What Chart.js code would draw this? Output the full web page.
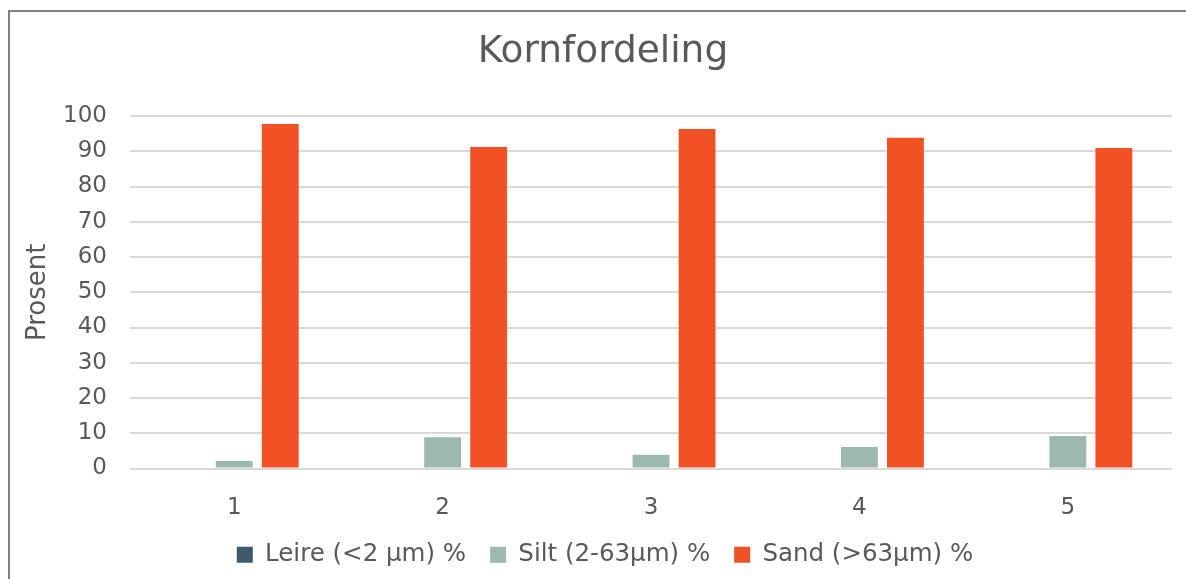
<!DOCTYPE html>
<html>
<head>
<meta charset="utf-8">
<script src="https://cdn.jsdelivr.net/npm/chart.js@4.4.0/dist/chart.umd.min.js"></script>
<style>
  html, body { margin: 0; padding: 0; background: #fff; }
  #wrap { position: relative; width: 1186px; height: 579px; overflow: hidden; }
  #frame { position: absolute; left: 8px; top: 10px; width: 1300px; height: 700px;
           border-left: 2px solid #7f7f7f; border-top: 2px solid #7f7f7f; }
  canvas { position: absolute; left: 0; top: 0; }
</style>
</head>
<body>
<div id="wrap">
  <div id="frame"></div>
  <canvas id="c" width="1186" height="579"></canvas>
</div>
<script>
// Prøver 1-5
const categories = ['1', '2', '3', '4', '5'];
const leire = [0, 0, 0, 0, 0];
const silt = [2.1, 8.9, 3.9, 6.1, 9.2];
const sand = [97.7, 91.2, 96.3, 93.8, 90.9];

const txt = '#595959';
const fnt = "'DejaVu Sans', Verdana, sans-serif";

// x labels may draw below their shrunk box; title + legend centred on the frame, not the canvas
const tweak = {
    id: 'tweak',
    afterLayout(c) {
        c.scales.x.bottom = c.height;
        c.titleBlock.left += 17; c.titleBlock.right += 17;
        c.legend.left += 19; c.legend.right += 19;
        c.legend.top += 2; c.legend.bottom += 2;
    }
};

let ch = new Chart(document.getElementById('c'), {
    type: 'bar',
    data: {
        labels: categories,
        datasets: [
            { label: 'Leire (<2 µm) %', data: leire, backgroundColor: '#3f5a6b' },
            { label: 'Silt (2-63µm) %', data: silt, backgroundColor: '#9db8ae' },
            { label: 'Sand (>63µm) %', data: sand, backgroundColor: '#f15123' }
        ]
    },
    options: {
        responsive: false,
        animation: false,
        categoryPercentage: 0.663,
        barPercentage: 0.8,
        layout: { padding: { left: 0, right: 14, top: 0, bottom: 4 } },
        scales: {
            x: {
                grid: { display: false },
                border: { display: false },
                ticks: { color: txt, font: { family: fnt, size: 23 }, padding: 18 },
                afterFit: s => { s.height = 48; }
            },
            y: {
                min: 0, max: 100,
                grid: { color: '#d9d9d9', lineWidth: 2, drawTicks: false },
                border: { display: false },
                ticks: { stepSize: 10, color: txt, font: { family: fnt, size: 23 }, padding: 23 },
                title: { display: true, text: 'Prosent', color: txt, font: { family: fnt, size: 26 }, padding: { top: 23, bottom: 0 } },
                afterFit: s => { s.width = 130; }
            }
        },
        plugins: {
            title: {
                display: true, text: 'Kornfordeling', color: txt,
                font: { family: fnt, size: 37.5, weight: 'normal' },
                padding: { top: 30, bottom: 41 }
            },
            legend: {
                position: 'bottom',
                labels: { color: txt, font: { family: fnt, size: 24.5 }, boxWidth: 16, boxHeight: 16, padding: 24 }
            },
            tooltip: { enabled: false }
        }
    },
    plugins: [tweak]
});
</script>
</body>
</html>
